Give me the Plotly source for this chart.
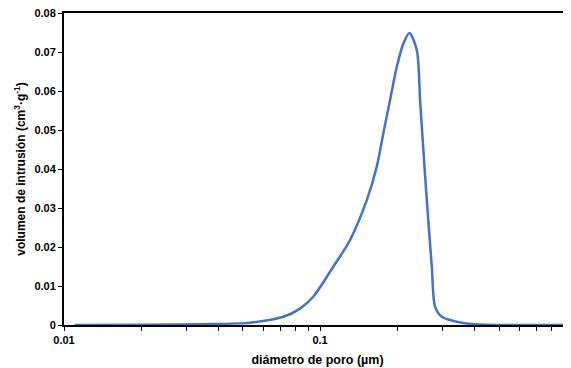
import plotly.graph_objects as go

# pore diameter (µm) and intrusion volume (cm3/g)
diametro = [0.0110, 0.0217, 0.034, 0.0533, 0.0719, 0.0835, 0.0942, 0.1127, 0.131,
            0.1522, 0.1665, 0.1767, 0.1877, 0.1994, 0.2116, 0.2233, 0.2386, 0.2458,
            0.2532, 0.2611, 0.2731, 0.2813, 0.2988, 0.362, 0.42, 0.50, 0.955]
volumen = [0.0, 0.00005, 0.0002, 0.0006, 0.0021, 0.0042, 0.0073, 0.0150, 0.0218,
           0.0320, 0.0406, 0.0492, 0.0577, 0.0662, 0.0722, 0.0749, 0.0705, 0.0577,
           0.0449, 0.0320, 0.0150, 0.0047, 0.0021, 0.0005, 0.0001, 0.0, 0.0]

x_ticks = [0.01, 0.1, 1]
x_tick_labels = ["0.01", "0.1", "1"]
y_ticks = [0, 0.01, 0.02, 0.03, 0.04, 0.05, 0.06, 0.07, 0.08]
y_tick_labels = ["0", "0.01", "0.02", "0.03", "0.04", "0.05", "0.06", "0.07", "0.08"]

minor_vals = [k * 10 ** e for e in (-2, -1) for k in range(2, 10)]

font = "Liberation Sans, Arial, sans-serif"

fig = go.Figure()
fig.add_trace(go.Scatter(
    x=diametro, y=volumen, mode="lines",
    line=dict(color="#4472C4", width=2.5, shape="spline", smoothing=0.8),
    hoverinfo="skip", showlegend=False))

fig.update_layout(
    width=563, height=360,
    margin=dict(l=56, r=0, t=5, b=43),
    paper_bgcolor="white", plot_bgcolor="white",
    font=dict(family=font, size=10, color="black"),
    xaxis=dict(
        type="log", range=[-2, -0.02],
        tickmode="array", tickvals=x_ticks, ticktext=x_tick_labels,
        tickfont=dict(family=font, size=11, color="black", weight="bold"),
        ticks="outside", ticklen=4, tickwidth=1, tickcolor="black",
        showline=True, linecolor="black", linewidth=2, mirror=True,
        showgrid=False, zeroline=False,
        minor=dict(tickmode="array", tickvals=minor_vals, ticks="outside",
                   ticklen=4, tickwidth=1, tickcolor="black", showgrid=False),
        title=dict(text="diámetro de poro (µm)", standoff=10,
                   font=dict(family=font, size=12.5, color="black", weight="bold")),
    ),
    yaxis=dict(
        range=[0, 0.08],
        tickmode="array", tickvals=y_ticks, ticktext=y_tick_labels,
        tickfont=dict(family=font, size=11, color="black", weight="bold"),
        ticklabeloverflow="allow",
        ticks="outside", ticklen=4, tickwidth=1, tickcolor="black",
        showline=True, linecolor="black", linewidth=2,
        showgrid=False, zeroline=False,
        title=dict(text="volumen de intrusión (cm<sup>3</sup>·g<sup>-1</sup>)", standoff=6,
                   font=dict(family=font, size=12, color="black", weight="bold")),
    ),
)

fig.write_html("out.html")
